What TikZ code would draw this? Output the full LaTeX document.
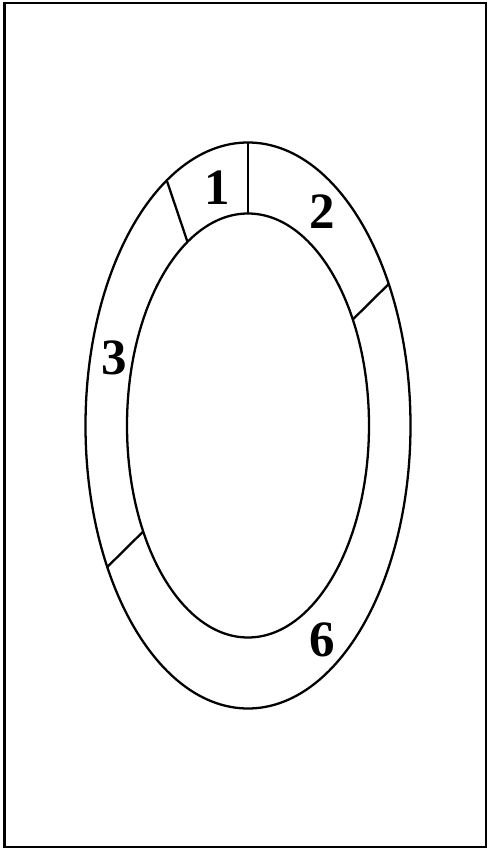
\documentclass[tikz,border=0pt]{standalone}
\usepackage{fontspec}
\setmainfont{Liberation Serif}
\usetikzlibrary{positioning,calc}

\tikzset{
  ring/.style={line width=1.3pt},
  seclabel/.style={font=\fontsize{29}{33}\selectfont\bfseries, inner sep=0pt}
}

\begin{document}
\begin{tikzpicture}[x=0.02cm, y=0.02cm]
  \useasboundingbox (0,0) rectangle (488,850);

  % Frame
  \draw[line width=1.6pt] (4.5,3) rectangle (486,847);

  % Ring
  \coordinate (c) at (248,424.5);
  \draw[ring] (c) ellipse [x radius=162.5, y radius=283];
  \draw[ring] (c) ellipse [x radius=121, y radius=212];

  % Section dividers
  \foreach \t in {90,120,30,210}
    \draw[ring] ($(c)+(\t:121 and 212)$) -- ($(c)+(\t:162.5 and 283)$);

  % Section labels
  \node[seclabel] (s1) at (217,662) {1};
  \node[seclabel] (s2) at (322,638) {2};
  \node[seclabel] (s3) at (114,492) {3};
  \node[seclabel] (s6) at (322,210) {6};
\end{tikzpicture}
\end{document}
